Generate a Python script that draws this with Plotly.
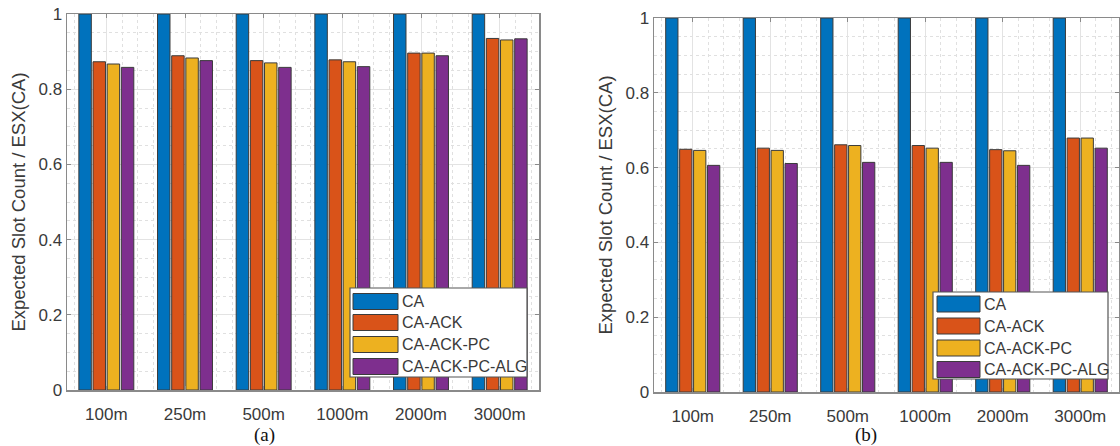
import plotly.graph_objects as go

categories = ["100m", "250m", "500m", "1000m", "2000m", "3000m"]
series_names = ["CA", "CA-ACK", "CA-ACK-PC", "CA-ACK-PC-ALG"]

# Panel (a)
a_CA = [1.0, 1.0, 1.0, 1.0, 1.0, 1.0]
a_ACK = [0.873, 0.889, 0.876, 0.878, 0.896, 0.935]
a_PC = [0.867, 0.883, 0.870, 0.873, 0.896, 0.931]
a_ALG = [0.858, 0.876, 0.858, 0.860, 0.889, 0.934]

# Panel (b)
b_CA = [1.0, 1.0, 1.0, 1.0, 1.0, 1.0]
b_ACK = [0.649, 0.652, 0.661, 0.659, 0.648, 0.679]
b_PC = [0.646, 0.646, 0.659, 0.652, 0.645, 0.679]
b_ALG = [0.606, 0.611, 0.614, 0.614, 0.606, 0.652]

y_ticks = [0, 0.2, 0.4, 0.6, 0.8, 1]
y_ticktext = ["0", "0.2", "0.4", "0.6", "0.8", "1"]
y_title = "Expected Slot Count / ESX(CA)"

colors = ["#0072BD", "#D95319", "#EDB120", "#7E2F8E"]

# Body margin is removed in the page, so the figure fills the window from (0, 0).
W, H = 1120, 446
def px(x):
    return x / W
def py(y):
    return 1 - y / H

FONT = "Liberation Sans, Arial, sans-serif"
TXT = "#3a3a3a"

fig = go.Figure()
x_pos = list(range(1, len(categories) + 1))

panels = [
    ("x", "y", [a_CA, a_ACK, a_PC, a_ALG]),
    ("x2", "y2", [b_CA, b_ACK, b_PC, b_ALG]),
]
for xa, ya, vals in panels:
    for name, v, c in zip(series_names, vals, colors):
        fig.add_trace(go.Bar(
            x=x_pos, y=v, name=name, xaxis=xa, yaxis=ya,
            marker=dict(color=c, line=dict(color="#3b3b3b", width=1)),
            showlegend=False,
        ))

axis_common = dict(
    showline=True, linecolor="#8a8a8a", linewidth=1.5, mirror="ticks",
    ticks="inside", ticklen=4, tickcolor="#8a8a8a",
    showgrid=True, gridcolor="#e3e3e3", gridwidth=1, zeroline=False,
    automargin=False, ticklabeloverflow="allow",
    tickfont=dict(family=FONT, size=17, color=TXT),
)

def xaxis(domain, anchor):
    return dict(
        domain=domain, range=[0.5, 6.5], anchor=anchor, tickmode="array",
        tickvals=x_pos, ticktext=categories, ticklabelstandoff=8,
        minor=dict(tick0=0, dtick=0.2, showgrid=True, griddash="dot",
                   gridcolor="#e0e0e0", gridwidth=1),
        **axis_common,
    )

def yaxis(domain, anchor):
    return dict(
        domain=domain, range=[0, 1], anchor=anchor, tickmode="array",
        tickvals=y_ticks, ticktext=y_ticktext,
        title=dict(text=y_title, font=dict(family=FONT, size=18.5, color=TXT), standoff=8),
        minor=dict(tick0=0, dtick=0.05, showgrid=True, griddash="dot",
                   gridcolor="#e0e0e0", gridwidth=1),
        **axis_common,
    )

fig.update_layout(
    width=W, height=H,
    margin=dict(l=0, r=0, t=0, b=0, autoexpand=False),
    paper_bgcolor="white", plot_bgcolor="white",
    barmode="group", bargap=0.28, bargroupgap=0.12,
    hovermode=False,
    xaxis=xaxis([px(67), px(539)], "y"),
    yaxis=yaxis([py(390), py(14)], "x"),
    xaxis2=xaxis([px(654), px(1119)], "y2"),
    yaxis2=yaxis([py(392), py(18)], "x2"),
)

# Manual legends (MATLAB-style large patches)
legend_specs = [
    dict(box=(350, 288, 527, 377), patch_x=(353, 398), rows=[301.5, 322.5, 344.5, 366.5], text_x=400),
    dict(box=(933, 292, 1108, 379), patch_x=(937, 980), rows=[304, 326, 348, 369.5], text_x=982),
]
for spec in legend_specs:
    x0, y0, x1, y1 = spec["box"]
    fig.add_shape(type="rect", xref="paper", yref="paper",
                  x0=px(x0), x1=px(x1), y0=py(y1), y1=py(y0),
                  fillcolor="white", line=dict(color="#555555", width=1.2), layer="above")
    for name, c, yc in zip(series_names, colors, spec["rows"]):
        fig.add_shape(type="rect", xref="paper", yref="paper",
                      x0=px(spec["patch_x"][0]), x1=px(spec["patch_x"][1]),
                      y0=py(yc + 8), y1=py(yc - 8),
                      fillcolor=c, line=dict(color="#3b3b3b", width=1), layer="above")
        fig.add_annotation(xref="paper", yref="paper", x=px(spec["text_x"]), y=py(yc),
                           text=name, showarrow=False, xanchor="left", yanchor="middle",
                           font=dict(family=FONT, size=16, color=TXT))

for lab, xc in [("(a)", 264), ("(b)", 866)]:
    fig.add_annotation(xref="paper", yref="paper", x=px(xc), y=py(435), text=lab,
                       showarrow=False, xanchor="center", yanchor="middle",
                       font=dict(family="Liberation Serif, Times New Roman, serif", size=19, color="#111111"))

fig.write_html(
    "out.html",
    config={"displayModeBar": False, "staticPlot": True},
    post_script="document.body.style.margin='0';document.body.style.overflow='hidden';",
)
